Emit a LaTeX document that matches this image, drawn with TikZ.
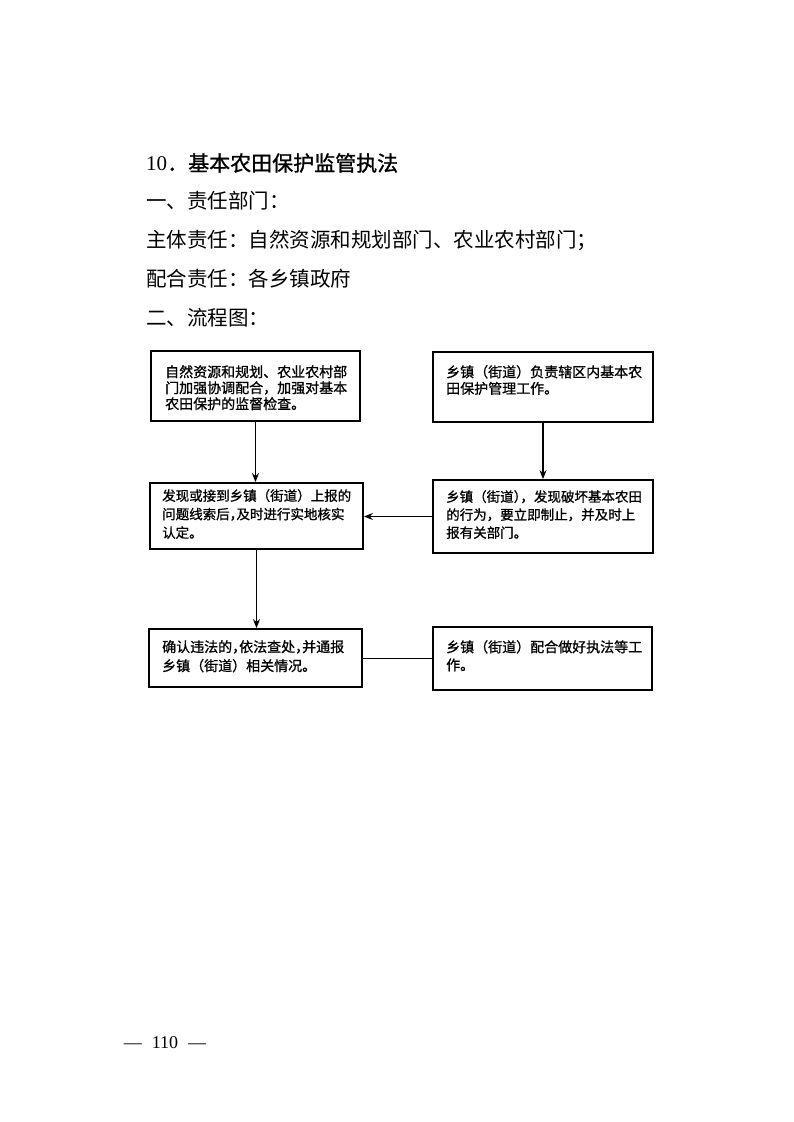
\documentclass[tikz,border=0pt]{standalone}
\usepackage{fontspec}
\newfontfamily\cjk{Noto Sans CJK SC}
\newfontfamily\cjkh[FakeBold=1.2]{Noto Sans CJK SC}
\newfontfamily\cjkb[FakeBold=1.0]{Noto Sans CJK SC}
\newfontfamily\serif{Liberation Serif}
\usetikzlibrary{arrows.meta}
\newcommand{\hw}[1]{\makebox[0.5em][l]{#1}}
\begin{document}
\begin{tikzpicture}[x=1pt,y=-1pt,
  box/.style={draw, line width=1.8pt, inner sep=0pt},
  btxt/.style={anchor=north west, inner sep=0pt, align=left},
  arr/.style={-{Stealth[length=9pt,width=7pt]}, line width=1.4pt},
  conn/.style={line width=1pt},
  head/.style={anchor=west, inner sep=0pt, font=\cjk\fontsize{20.5}{24}\selectfont}]
\useasboundingbox[fill=white] (0,0) rectangle (793,1122);
% heading lines
\node[head, font=\fontsize{21}{24}\selectfont] (h0) at (146,163) {\serif 10\cjkh．基本农田保护监管执法};
\node[head] (h1) at (146,201) {一、责任部门：};
\node[head] (h2) at (146,240) {主体责任：自然资源和规划部门、农业农村部门；};
\node[head] (h3) at (146,279) {配合责任：各乡镇政府};
\node[head] (h4) at (146,318) {二、流程图：};
% boxes
\node[box, minimum width=209, minimum height=70] (A) at (255.5,386) {};
\node[box, minimum width=220, minimum height=70] (B) at (543,387) {};
\node[box, minimum width=213, minimum height=66] (C) at (256.5,516) {};
\node[box, minimum width=220, minimum height=73] (D) at (543,516.5) {};
\node[box, minimum width=213, minimum height=58] (E) at (255.5,658) {};
\node[box, minimum width=219, minimum height=63] (F) at (542.5,658.5) {};
% box texts
\node[btxt, font=\cjkb\fontsize{14}{16}\selectfont] (At) at (165,365) {自然资源和规划、农业农村部\\门加强协调配合，加强对基本\\农田保护的监督检查。};
\node[btxt, font=\cjkb\fontsize{14}{16.5}\selectfont] (Bt) at (446,365) {乡镇（街道）负责辖区内基本农\\田保护管理工作。};
\node[btxt, font=\cjkb\fontsize{13.5}{18.5}\selectfont] (Ct) at (162,489) {发现或接到乡镇（街道）上报的\\问题线索后\hw{，}及时进行实地核实\\认定。};
\node[btxt, font=\cjkb\fontsize{13.5}{18}\selectfont] (Dt) at (446,490) {乡镇（街道\hw{）}，发现破坏基本农田\\的行为，要立即制止，并及时上\\报有关部门。};
\node[btxt, font=\cjkb\fontsize{14}{19}\selectfont] (Et) at (162,640) {确认违法的\hw{，}依法查处\hw{，}并通报\\乡镇（街道）相关情况。};
\node[btxt, font=\cjkb\fontsize{14}{18}\selectfont] (Ft) at (446,640) {乡镇（街道）配合做好执法等工\\作。};
% connectors
\draw[arr] (A.south) -- (A.south |- C.north);
\draw[arr] (B.south) -- (B.south |- D.north);
\draw[arr] (D.west) -- (C.east |- D.west);
\draw[arr] (C.south) -- (C.south |- E.north);
\draw[conn] (E.east) -- (F.west |- E.east);
% page number
\node[inner sep=0pt, font=\serif\fontsize{18}{22}\selectfont] (pn) at (165,1043) {—\hspace{10pt}110\hspace{10pt}—};
\end{tikzpicture}
\end{document}
